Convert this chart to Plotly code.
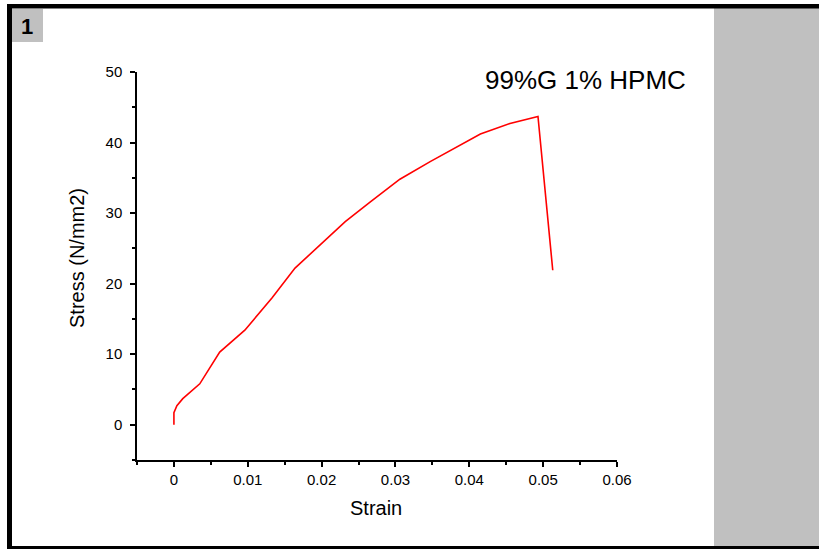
import plotly.graph_objects as go

# Data
strain = [0.0, 0.0, 0.0004, 0.0012, 0.0035, 0.0062, 0.0096, 0.0133, 0.0164, 0.0198,
          0.0232, 0.0266, 0.0306, 0.0347, 0.0388, 0.0415, 0.0455, 0.0493, 0.0513]
stress = [0.0, 1.7, 2.7, 3.7, 5.8, 10.3, 13.4, 18.0, 22.2, 25.5,
          28.8, 31.6, 34.8, 37.3, 39.7, 41.2, 42.7, 43.7, 21.9]
x_ticks = [0, 0.01, 0.02, 0.03, 0.04, 0.05, 0.06]
x_tick_labels = ["0", "0.01", "0.02", "0.03", "0.04", "0.05", "0.06"]
y_ticks = [0, 10, 20, 30, 40, 50]
y_tick_labels = ["0", "10", "20", "30", "40", "50"]
title_text = "99%G 1% HPMC"
x_title = "Strain"
y_title = "Stress (N/mm2)"
panel_label = "1"

W, H = 819, 550
L, R, T, B = 137, 617, 72, 460

def px(xp):
    return (xp - L) / (R - L)

def py(yp):
    return (B - yp) / (B - T)

FONT = "Liberation Sans, Arial, sans-serif"

fig = go.Figure()
fig.add_trace(go.Scatter(x=strain, y=stress, mode="lines",
                         line=dict(color="#ff0000", width=1.6), showlegend=False,
                         hoverinfo="skip"))

shapes = []
def rect(x0, y0, x1, y1, color):
    shapes.append(dict(type="rect", xref="paper", yref="paper",
                       x0=px(x0), x1=px(x1), y0=py(y1), y1=py(y0),
                       fillcolor=color, line=dict(width=0), layer="below"))

# gray right panel
rect(714, 8, 819, 547, "#c0c0c0")
# label box
rect(12, 9, 43, 42, "#c0c0c0")
# black frame
rect(0, 0, 819, 4, "#ffffff")
rect(7, 4, 819, 8.5, "#000000")
rect(7, 4, 12, 549, "#000000")
rect(7, 546, 819, 549, "#000000")

fig.update_layout(
    width=W, height=H,
    margin=dict(l=L, r=W - R, t=T, b=H - B, pad=0),
    paper_bgcolor="#ffffff", plot_bgcolor="rgba(0,0,0,0)",
    font=dict(family=FONT, color="#000000"),
    shapes=shapes,
    annotations=[
        dict(text=title_text, xref="paper", yref="paper", x=px(585), y=py(80),
             showarrow=False, font=dict(size=26, family=FONT, color="#000000"),
             xanchor="center", yanchor="middle"),
        dict(text="<b>" + panel_label + "</b>", xref="paper", yref="paper",
             x=px(27), y=py(27), showarrow=False,
             font=dict(size=22, family=FONT, color="#000000"),
             xanchor="center", yanchor="middle"),
        dict(text=y_title, xref="paper", yref="paper", x=px(77), y=py(258),
             showarrow=False, textangle=-90,
             font=dict(size=20, family=FONT, color="#000000"),
             xanchor="center", yanchor="middle"),
        dict(text=x_title, xref="paper", yref="paper", x=px(376), y=py(508),
             showarrow=False,
             font=dict(size=20, family=FONT, color="#000000"),
             xanchor="center", yanchor="middle"),
    ],
)

fig.update_xaxes(
    range=[-0.005, 0.06], tickvals=x_ticks, ticktext=x_tick_labels,
    showgrid=False, zeroline=False, showline=True, linecolor="#000000", linewidth=1.5,
    ticks="outside", ticklen=5, tickwidth=1.5, tickcolor="#000000",
    tickfont=dict(size=15, family=FONT, color="#000000"),
    minor=dict(tickvals=[-0.005, 0.005, 0.015, 0.025, 0.035, 0.045, 0.055],
               ticks="outside", ticklen=3, tickwidth=1.5, tickcolor="#000000"),
    fixedrange=True,
)
fig.update_yaxes(
    range=[-5, 50], tickvals=y_ticks, ticktext=y_tick_labels,
    showgrid=False, zeroline=False, showline=True, linecolor="#000000", linewidth=1.5,
    ticks="outside", ticklen=5, tickwidth=1.5, tickcolor="#000000",
    tickfont=dict(size=15, family=FONT, color="#000000"),
    ticklabelstandoff=5,
    minor=dict(tickvals=[-5, 5, 15, 25, 35, 45],
               ticks="outside", ticklen=3, tickwidth=1.5, tickcolor="#000000"),
    fixedrange=True,
)

fig.write_html("out.html")
